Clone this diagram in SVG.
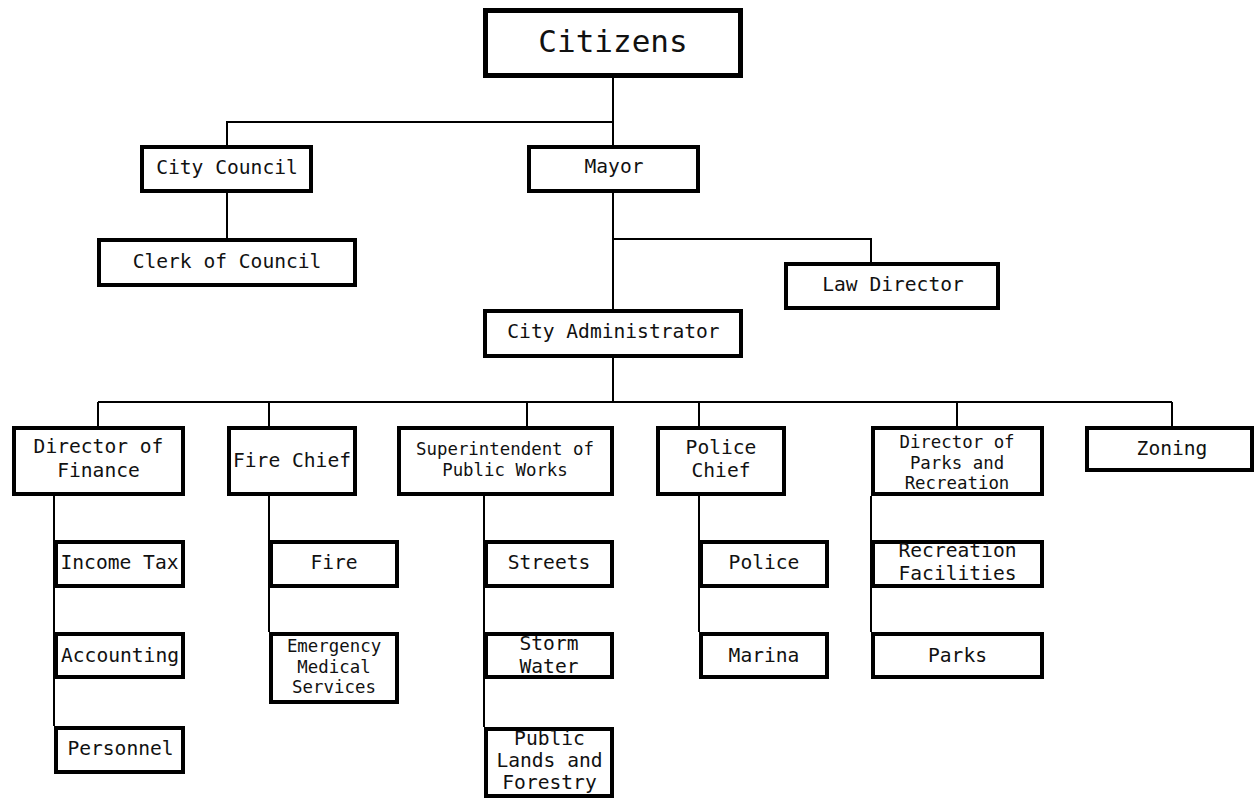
<svg xmlns="http://www.w3.org/2000/svg" width="1257" height="800" viewBox="0 0 1257 800">
<style>
.b{fill:#fff;stroke:#000;stroke-width:4}
.c{fill:none;stroke:#000;stroke-width:2}
text{font-family:"DejaVu Sans Mono","Liberation Mono",monospace;font-size:19.6px;fill:#111;text-anchor:middle}
.s{font-size:17.4px}
.t{font-size:31px}
</style>
<rect width="1257" height="800" fill="#fff"/>
<g id="connectors" class="c">
<path d="M613 78V145M613 122H227V145M227 193V238"/>
<path d="M613 193V309M613 239H871V262"/>
<path d="M613 358V402M98 402H1172M98 402V426M269 402V426M527 402V426M699 402V426M957 402V426M1172 402V426"/>
<path d="M54 496V726M269 496V632M484 496V727M699 496V632M871 496V632"/>
</g>
<g id="citizens"><rect class="b" x="485.5" y="10.5" width="255" height="65" style="stroke-width:5"/><text class="t" x="613" y="52">Citizens</text></g>
<g id="city-council"><rect class="b" x="142" y="147" width="169" height="44"/><text x="227" y="174">City Council</text></g>
<g id="clerk"><rect class="b" x="99" y="240" width="256" height="45"/><text x="227" y="268">Clerk of Council</text></g>
<g id="mayor"><rect class="b" x="529" y="147" width="169" height="44"/><text x="614" y="173">Mayor</text></g>
<g id="law-director"><rect class="b" x="786" y="264" width="212" height="44"/><text x="893" y="291">Law Director</text></g>
<g id="city-admin"><rect class="b" x="485" y="311" width="256" height="45"/><text x="613.5" y="338">City Administrator</text></g>
<g id="finance"><rect class="b" x="14" y="428" width="169" height="66"/><text x="98.5" y="453">Director of</text><text x="98.5" y="477">Finance</text></g>
<g id="fire-chief"><rect class="b" x="229" y="428" width="126" height="66"/><text x="292" y="467">Fire Chief</text></g>
<g id="public-works"><rect class="b" x="399" y="428" width="213" height="66"/><text class="s" x="505" y="455">Superintendent of</text><text class="s" x="505" y="476">Public Works</text></g>
<g id="police-chief"><rect class="b" x="658" y="428" width="126" height="66"/><text x="721" y="454">Police</text><text x="721" y="477">Chief</text></g>
<g id="parks-director"><rect class="b" x="873" y="428" width="169" height="66"/><text class="s" x="957" y="448">Director of</text><text class="s" x="957" y="468.5">Parks and</text><text class="s" x="957" y="489">Recreation</text></g>
<g id="zoning"><rect class="b" x="1087" y="428" width="165" height="42"/><text x="1172" y="455">Zoning</text></g>
<g id="income-tax"><rect class="b" x="56" y="542" width="127" height="44"/><text x="119.5" y="569">Income Tax</text></g>
<g id="accounting"><rect class="b" x="56" y="634" width="127" height="43"/><text x="120" y="662">Accounting</text></g>
<g id="personnel"><rect class="b" x="56" y="728" width="127" height="44"/><text x="120.5" y="755">Personnel</text></g>
<g id="fire"><rect class="b" x="271" y="542" width="126" height="44"/><text x="334" y="569">Fire</text></g>
<g id="ems"><rect class="b" x="271" y="634" width="126" height="68"/><text class="s" x="334" y="652">Emergency</text><text class="s" x="334" y="673">Medical</text><text class="s" x="334" y="693">Services</text></g>
<g id="streets"><rect class="b" x="486" y="542" width="126" height="44"/><text x="549" y="569">Streets</text></g>
<g id="storm-water"><rect class="b" x="486" y="634" width="126" height="43"/><text x="549" y="650">Storm</text><text x="549" y="673">Water</text></g>
<g id="public-lands"><rect class="b" x="486" y="729" width="126" height="67"/><text x="549.5" y="745">Public</text><text x="549.5" y="767">Lands and</text><text x="549.5" y="789">Forestry</text></g>
<g id="police"><rect class="b" x="701" y="542" width="126" height="44"/><text x="764" y="569">Police</text></g>
<g id="marina"><rect class="b" x="701" y="634" width="126" height="43"/><text x="764" y="662">Marina</text></g>
<g id="rec-facilities"><rect class="b" x="873" y="542" width="169" height="44"/><text x="957.5" y="557">Recreation</text><text x="957.5" y="580">Facilities</text></g>
<g id="parks"><rect class="b" x="873" y="634" width="169" height="43"/><text x="957.5" y="662">Parks</text></g>
</svg>
